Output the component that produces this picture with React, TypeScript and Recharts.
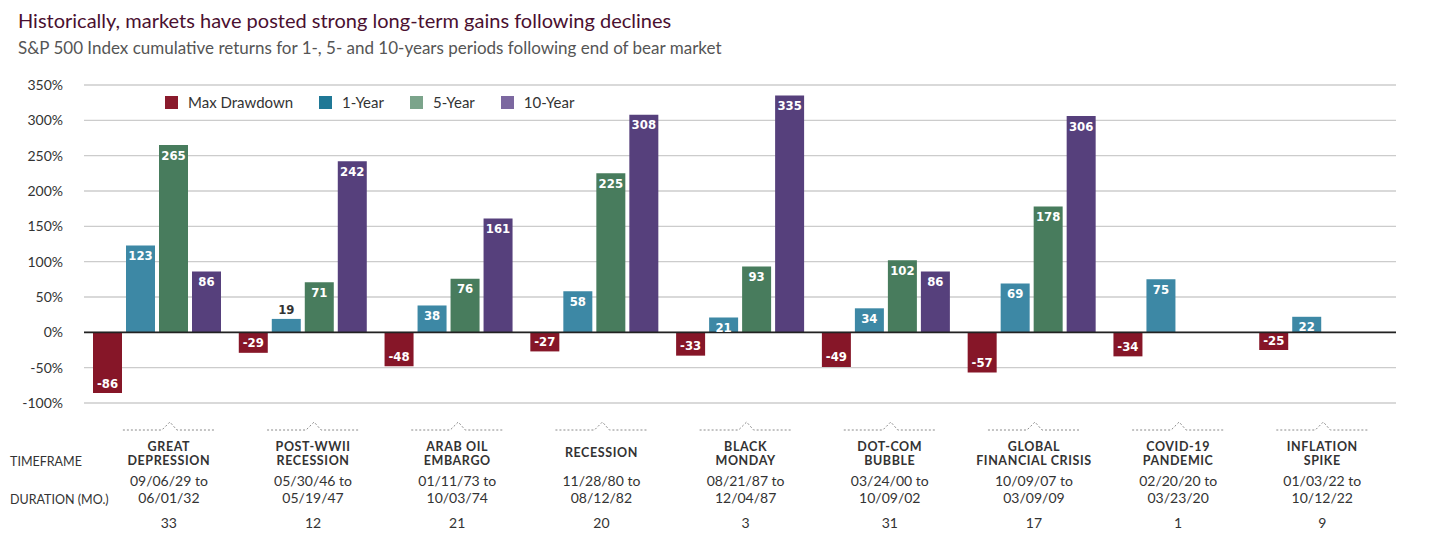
import { BarChart, Bar, XAxis, YAxis, CartesianGrid, ReferenceLine, Legend } from 'recharts'

const W = 1456
const H = 548

const eventNames = [
  ['GREAT', 'DEPRESSION'],
  ['POST-WWII', 'RECESSION'],
  ['ARAB OIL', 'EMBARGO'],
  ['RECESSION'],
  ['BLACK', 'MONDAY'],
  ['DOT-COM', 'BUBBLE'],
  ['GLOBAL', 'FINANCIAL CRISIS'],
  ['COVID-19', 'PANDEMIC'],
  ['INFLATION', 'SPIKE'],
]
const startDates = ['09/06/29', '05/30/46', '01/11/73', '11/28/80', '08/21/87', '03/24/00', '10/09/07', '02/20/20', '01/03/22']
const endDates = ['06/01/32', '05/19/47', '10/03/74', '08/12/82', '12/04/87', '10/09/02', '03/09/09', '03/23/20', '10/12/22']
const durations = [33, 12, 21, 20, 3, 31, 17, 1, 9]

const maxDrawdown = [-86, -29, -48, -27, -33, -49, -57, -34, -25]
const oneYear = [123, 19, 38, 58, 21, 34, 69, 75, 22]
const fiveYear = [265, 71, 76, 225, 93, 102, 178, null, null]
const tenYear = [86, 242, 161, 308, 335, 86, 306, null, null]

const yTicks = [-100, -50, 0, 50, 100, 150, 200, 250, 300, 350]

const series = [
  { key: 'dd', name: 'Max Drawdown', color: '#861628', legend: '#8a1a2c' },
  { key: 'y1', name: '1-Year', color: '#3d88a5', legend: '#1f7896' },
  { key: 'y5', name: '5-Year', color: '#487c5d', legend: '#7ba48b' },
  { key: 'y10', name: '10-Year', color: '#56407c', legend: '#7c68a0' },
]

const data = eventNames.map((n, i) => ({
  name: n.join(' '),
  dd: maxDrawdown[i],
  y1: oneYear[i],
  y5: fiveYear[i],
  y10: tenYear[i],
}))

const TEXT = '#333'
const FONT = 'Lato, "Open Sans", sans-serif'

function YTick({ y, payload }: any) {
  return (
    <text x={63} y={y + 5} textAnchor="end" fontSize={14} fill={TEXT} fontFamily={FONT}>
      {payload.value}%
    </text>
  )
}

function CategoryTick({ x, payload, index }: any) {
  const i = index ?? payload.index
  const cx = x + 12 - i * 1.6
  const lines = eventNames[i]
  const nameY = lines.length === 2 ? [451, 465] : [457]
  return (
    <g>
      <polyline
        points={`${cx - 46},430 ${cx - 7},430 ${cx + 1},422 ${cx + 8},430 ${cx + 46},430`}
        fill="none"
        stroke="#8a8a8a"
        strokeWidth={1}
        strokeDasharray="2 2"
      />
      {lines.map((l, k) => (
        <text key={k} x={cx} y={nameY[k]} textAnchor="middle" fontSize={12.5} fontWeight={700}
          letterSpacing={0.6} fill={TEXT} fontFamily={FONT}>
          {l}
        </text>
      ))}
      <text x={cx} y={486} textAnchor="middle" fontSize={14} fill={TEXT} fontFamily={FONT}>
        {startDates[i]} to
      </text>
      <text x={cx} y={503} textAnchor="middle" fontSize={14} fill={TEXT} fontFamily={FONT}>
        {endDates[i]}
      </text>
      <text x={cx} y={528} textAnchor="middle" fontSize={14} fill={TEXT} fontFamily={FONT}>
        {durations[i]}
      </text>
    </g>
  )
}

function BarLabel({ x, y, width, height, value }: any) {
  if (value == null) return null
  const top = Math.min(y, y + height)
  const bottom = Math.max(y, y + height)
  const cx = x + width / 2
  let cy = value >= 0 ? top + 10 : bottom - 10
  let fill = '#fff'
  if (value > 0 && value < 20) {
    cy = top - 9
    fill = TEXT
  }
  return (
    <text x={cx} y={cy + 4.5} textAnchor="middle" fontSize={13} fontWeight={700} fill={fill}
      fontFamily='"DejaVu Sans Condensed", Roboto, sans-serif'>
      {value}
    </text>
  )
}

function LegendContent() {
  return (
    <div style={{ display: 'flex', alignItems: 'center', fontFamily: FONT, fontSize: 15, color: TEXT, whiteSpace: 'nowrap' }}>
      {series.map((s, i) => (
        <div key={s.key} style={{ display: 'flex', alignItems: 'center', marginLeft: i === 0 ? 0 : 26 }}>
          <span style={{ display: 'inline-block', width: 13, height: 13, background: s.legend, marginRight: 10 }} />
          <span>{s.name}</span>
        </div>
      ))}
    </div>
  )
}

function App() {
  return (
    <div style={{ position: 'relative', width: W, height: H, margin: '-8px 0 0 -8px', background: '#fff' }}>
      <BarChart
        width={W}
        height={H}
        data={data}
        margin={{ top: 85, right: 60, bottom: 0, left: 0 }}
        barCategoryGap={9}
        barGap={4}
      >
        <CartesianGrid vertical={false} stroke="#cccccc" strokeWidth={1.3} />
        <YAxis
          width={84}
          domain={[-100, 350]}
          ticks={yTicks}
          axisLine={false}
          tickLine={false}
          tick={<YTick />}
          interval={0}
        />
        <XAxis
          dataKey="name"
          height={145}
          axisLine={false}
          tickLine={false}
          interval={0}
          tick={<CategoryTick />}
        />
        <Legend
          layout="vertical"
          verticalAlign="middle"
          align="center"
          content={<LegendContent />}
          wrapperStyle={{ top: 93, left: 165, width: 'auto', height: 20 }}
        />
        {series.map((s) => (
          <Bar key={s.key} dataKey={s.key} name={s.name} fill={s.color} isAnimationActive={false}
            label={<BarLabel />} />
        ))}
        <ReferenceLine y={0} stroke="#222" strokeWidth={1.6} />
      </BarChart>
      <svg width={W} height={H} style={{ position: 'absolute', left: 0, top: 0, pointerEvents: 'none' }}>
        <text x={18} y={28} fontSize={20} fill="#4a1030" fontFamily={FONT}>
          Historically, markets have posted strong long-term gains following declines
        </text>
        <text x={18} y={54} fontSize={17} fill="#555" fontFamily={FONT}>
          S&amp;P 500 Index cumulative returns for 1-, 5- and 10-years periods following end of bear market
        </text>
        <text x={10} y={466} fontSize={12.5} fill={TEXT} fontFamily={FONT}>TIMEFRAME</text>
        <text x={10} y={504} fontSize={12.5} fill={TEXT} fontFamily={FONT}>DURATION (MO.)</text>
      </svg>
    </div>
  )
}

export default App
